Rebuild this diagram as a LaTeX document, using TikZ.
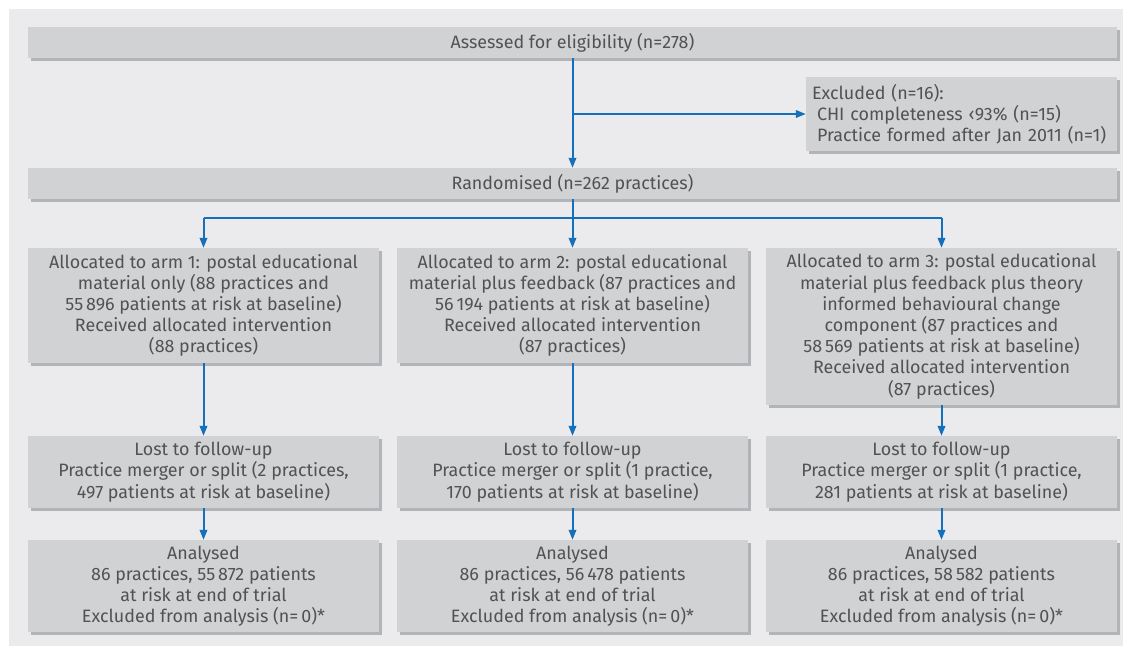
\documentclass[tikz,border=0pt]{standalone}
\usepackage{fontspec}
\setmainfont{Fira Sans}
\usetikzlibrary{arrows.meta,shadows}
\definecolor{panel}{HTML}{EBEBED}
\definecolor{boxfill}{HTML}{D1D2D4}
\definecolor{boxshadow}{HTML}{B3B4B7}
\definecolor{txt}{HTML}{525255}
\definecolor{arrowblue}{HTML}{1470BA}
\tikzset{
  fbox/.style={fill=boxfill, draw=none, inner sep=0pt, align=center, text=txt,
    font=\fontsize{17.9}{21.2}\selectfont,
    general shadow={fill=boxshadow, shadow xshift=3pt, shadow yshift=-3pt}},
  conn/.style={draw=arrowblue, line width=2pt},
  arr/.style={conn, -{Triangle[width=7.5pt,length=10pt]}},
}
\begin{document}
\begin{tikzpicture}[x=1pt,y=-1pt]
\useasboundingbox (0,0) rectangle (1123,646);
\fill[panel] (9,9) rectangle (1123,646);
% boxes
\node[fbox, minimum width=1089pt, minimum height=31pt] (top) at (572.5,42.5) {Assessed for eligibility (n=278)};
\node[fbox, minimum width=311pt, minimum height=74pt, text width=299pt, align=left] (excl) at (961.5,114)
  {Excluded (n=16):\\\hspace*{5pt}CHI completeness ‹93\% (n=15)\\\hspace*{5pt}Practice formed after Jan 2011 (n=1)};
\node[fbox, minimum width=1089pt, minimum height=31pt] (rand) at (572.5,183.5) {Randomised (n=262 practices)};
\node[fbox, minimum width=351pt, minimum height=115pt] (arm1) at (203.5,305.5)
  {Allocated to arm 1: postal educational\\material only (88 practices and\\55\,896 patients at risk at baseline)\\Received allocated intervention\\(88 practices)};
\node[fbox, minimum width=351pt, minimum height=115pt] (arm2) at (572.5,305.5)
  {Allocated to arm 2: postal educational\\material plus feedback (87 practices and\\56\,194 patients at risk at baseline)\\Received allocated intervention\\(87 practices)};
\node[fbox, minimum width=351pt, minimum height=157pt] (arm3) at (941.5,326.5)
  {Allocated to arm 3: postal educational\\material plus feedback plus theory\\informed behavioural change\\component (87 practices and\\58\,569 patients at risk at baseline)\\Received allocated intervention\\(87 practices)};
\node[fbox, minimum width=351pt, minimum height=72pt] (lost1) at (203.5,472)
  {Lost to follow-up\\Practice merger or split (2 practices,\\497 patients at risk at baseline)};
\node[fbox, minimum width=351pt, minimum height=72pt] (lost2) at (572.5,472)
  {Lost to follow-up\\Practice merger or split (1 practice,\\170 patients at risk at baseline)};
\node[fbox, minimum width=351pt, minimum height=72pt] (lost3) at (941.5,472)
  {Lost to follow-up\\Practice merger or split (1 practice,\\281 patients at risk at baseline)};
\node[fbox, minimum width=351pt, minimum height=92pt] (an1) at (203.5,586)
  {Analysed\\86 practices, 55\,872 patients\\at risk at end of trial\\Excluded from analysis (n=\,0)*};
\node[fbox, minimum width=351pt, minimum height=92pt] (an2) at (572.5,586)
  {Analysed\\86 practices, 56\,478 patients\\at risk at end of trial\\Excluded from analysis (n=\,0)*};
\node[fbox, minimum width=351pt, minimum height=92pt] (an3) at (941.5,586)
  {Analysed\\86 practices, 58\,582 patients\\at risk at end of trial\\Excluded from analysis (n=\,0)*};
% connectors
\draw[arr] (top.south) -- (rand.north);
\draw[arr] (top.south |- excl.west) -- (excl.west);
\coordinate (br) at (572.5,218);
\draw[conn] (rand.south) -- (br);
\draw[conn] (arm1.north |- br) -- (arm3.north |- br);
\draw[arr] (arm1.north |- br) -- (arm1.north);
\draw[arr] (br) -- (arm2.north);
\draw[arr] (arm3.north |- br) -- (arm3.north);
\draw[arr] (arm1.south) -- (lost1.north);
\draw[arr] (arm2.south) -- (lost2.north);
\draw[arr] (arm3.south) -- (lost3.north);
\draw[arr] (lost1.south) -- (an1.north);
\draw[arr] (lost2.south) -- (an2.north);
\draw[arr] (lost3.south) -- (an3.north);
\end{tikzpicture}
\end{document}
